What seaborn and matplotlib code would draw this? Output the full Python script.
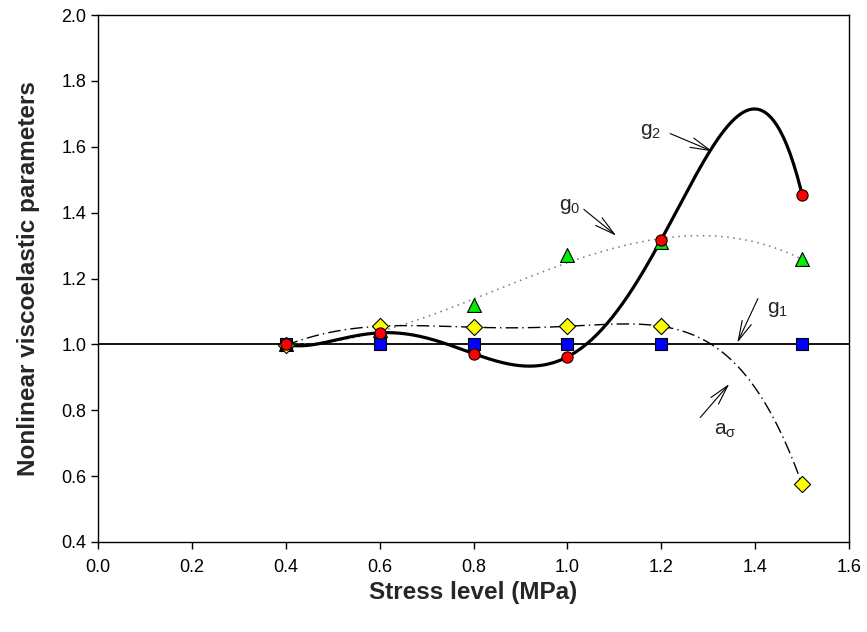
import numpy as np
import pandas as pd
import matplotlib
matplotlib.use("Agg")
import matplotlib.pyplot as plt
import seaborn as sns

# ---- data ----
stress = [0.4, 0.6, 0.8, 1.0, 1.2, 1.5]
g0 = [1.0, 1.045, 1.12, 1.27, 1.31, 1.26]
g1 = [1.0, 1.0, 1.0, 1.0, 1.0, 1.0]
g2 = [1.0, 1.035, 0.972, 0.962, 1.318, 1.455]
a_sigma = [0.997, 1.055, 1.052, 1.055, 1.055, 0.575]

x_ticks = [0.0, 0.2, 0.4, 0.6, 0.8, 1.0, 1.2, 1.4, 1.6]
y_ticks = [0.4, 0.6, 0.8, 1.0, 1.2, 1.4, 1.6, 1.8, 2.0]

sns.set_theme(style="white")
plt.rcParams["font.family"] = ["Liberation Sans", "DejaVu Sans"]
plt.rcParams["mathtext.fontset"] = "custom"
plt.rcParams["mathtext.rm"] = "Liberation Sans"
plt.rcParams["mathtext.it"] = "Liberation Sans:italic"

fig = plt.figure(figsize=(8.67, 6.32), dpi=100)
ax = fig.add_axes([98 / 867, 1 - 542 / 632, (849 - 98) / 867, (542 - 15) / 632])

xs = np.array(stress)

def curve(vals, deg, lo, hi):
    c = np.polyfit(xs, np.array(vals), deg)
    xx = np.linspace(lo, hi, 300)
    return pd.DataFrame({"x": xx, "y": np.polyval(c, xx)})

# fitted curves
c1 = curve(g1, 1, 0.0, 1.6)
sns.lineplot(data=c1, x="x", y="y", ax=ax, color="black", lw=1.3, sort=False, estimator=None, zorder=2)
c0 = curve(g0, 3, 0.4, 1.5)
sns.lineplot(data=c0, x="x", y="y", ax=ax, color="#777777", lw=1.1, linestyle=(0, (1, 3)), sort=False, estimator=None, zorder=2)
ca = curve(a_sigma, 5, 0.4, 1.5)
sns.lineplot(data=ca, x="x", y="y", ax=ax, color="black", lw=1.0, linestyle=(0, (9, 3, 1, 3)), sort=False, estimator=None, zorder=2)
c2 = curve(g2, 5, 0.4, 1.5)
sns.lineplot(data=c2, x="x", y="y", ax=ax, color="black", lw=2.3, sort=False, estimator=None, zorder=3)

# markers
sns.scatterplot(x=stress, y=g0, ax=ax, marker="^", s=100, color="#00EE00", edgecolor="black", linewidth=0.8, zorder=4)
sns.scatterplot(x=stress, y=g1, ax=ax, marker="s", s=72, color="#0000FF", edgecolor="black", linewidth=0.8, zorder=5)
sns.scatterplot(x=stress, y=a_sigma, ax=ax, marker="D", s=68, color="#FFFF00", edgecolor="black", linewidth=0.8, zorder=6)
sns.scatterplot(x=stress, y=g2, ax=ax, marker="o", s=65, color="#FF0000", edgecolor="black", linewidth=0.8, zorder=7)

ax.set_xlim(0.0, 1.6)
ax.set_ylim(0.4, 2.0)
ax.set_xticks(x_ticks)
ax.set_yticks(y_ticks)
ax.set_xticklabels([f"{v:.1f}" for v in x_ticks], fontsize=13)
ax.set_yticklabels([f"{v:.1f}" for v in y_ticks], fontsize=13)
ax.tick_params(axis="both", which="both", direction="out", length=5, width=1, color="black",
               bottom=True, left=True, top=False, right=False, labelcolor="black")
ax.tick_params(axis="x", pad=7)
ax.tick_params(axis="y", pad=3.5)
for sp in ax.spines.values():
    sp.set_visible(True)
    sp.set_color("black")
    sp.set_linewidth(1.0)

ax.set_xlabel("Stress level (MPa)", fontsize=17.5, fontweight="bold", labelpad=4)
ax.set_ylabel("Nonlinear viscoelastic parameters", fontsize=17.5, fontweight="bold", labelpad=15)

arrow = dict(arrowstyle="->, head_length=1.2, head_width=0.3", lw=0.8, color="black", shrinkA=0, shrinkB=0)
ax.text(1.177, 1.646, r"g$_\mathregular{2}$", fontsize=15, ha="center", va="center")
ax.annotate("", xy=(1.309, 1.586), xytext=(1.219, 1.64), arrowprops=arrow)
ax.text(1.004, 1.42, r"g$_\mathregular{0}$", fontsize=15, ha="center", va="center")
ax.annotate("", xy=(1.104, 1.33), xytext=(1.035, 1.41), arrowprops=arrow)
ax.text(1.447, 1.106, r"g$_\mathregular{1}$", fontsize=15, ha="center", va="center")
ax.annotate("", xy=(1.362, 1.005), xytext=(1.406, 1.139), arrowprops=arrow)
ax.text(1.336, 0.739, r"a$_\mathregular{σ}$", fontsize=15, ha="center", va="center")
ax.annotate("", xy=(1.345, 0.88), xytext=(1.283, 0.778), arrowprops=arrow)

fig.savefig("out.png", dpi=100)
